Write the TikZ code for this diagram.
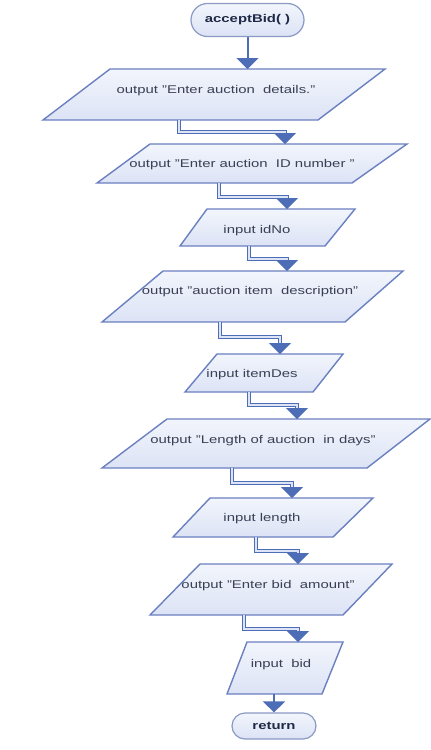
\documentclass[tikz,border=0pt]{standalone}
\usepackage{fontspec}
\usepackage{graphicx}
\setmainfont{Liberation Sans}
\usetikzlibrary{arrows.meta}
\definecolor{edgec}{HTML}{6A80C0}
\definecolor{termedge}{HTML}{8A9AC4}
\definecolor{arrowc}{HTML}{4D6DB6}
\definecolor{innerc}{HTML}{DDE4F5}
\definecolor{fillT}{HTML}{F2F5FC}
\definecolor{fillB}{HTML}{DCE3F5}
\definecolor{txtc}{HTML}{3A3F55}
\definecolor{boldc}{HTML}{1F2A48}
\newcommand{\wtext}[1]{\scalebox{1.33}[1]{#1}}
\begin{document}
\begin{tikzpicture}[x=1pt,y=-1pt,
  io/.style={draw=edgec, line width=1.4pt, top color=fillT, bottom color=fillB},
  lbl/.style={text=txtc, font=\fontsize{11.2}{13}\selectfont, inner sep=0pt},
  term/.style={draw=termedge, line width=1.2pt, top color=fillT, bottom color=fillB,
    rounded corners=16.5pt, minimum height=33pt, text=boldc,
    font=\fontsize{11.2}{13}\selectfont\bfseries, inner sep=0pt},
  flow/.style={draw=arrowc, line width=2pt, -{Triangle[width=22pt,length=11pt]}},
  elbow/.style={draw=arrowc, line width=1.2pt, double=innerc, double distance=1.3pt,
    -{Triangle[width=22pt,length=11pt]}}]
\useasboundingbox (0,0) rectangle (431,750);
\fill[white] (0,0) rectangle (431,750);

% start
\node[term, minimum width=113pt] (start) at (247.5,20) {\wtext{acceptBid( )}};

% P1
\path[io] (110,69) -- (385,69) -- (318,120) -- (43,120) -- cycle;
\node[lbl] (p1) at (216,91) {\wtext{output "Enter auction~~details."}};
\coordinate (p1in) at (247.5,69); \coordinate (p1out) at (179,120);

% P2
\path[io] (150,144) -- (407,144) -- (352,183) -- (97,183) -- cycle;
\node[lbl] (p2) at (242,165) {\wtext{output "Enter auction~~ID number "}};
\coordinate (p2in) at (285,144); \coordinate (p2out) at (219,183);

% P3
\path[io] (207,209) -- (355,209) -- (325,246) -- (180,246) -- cycle;
\node[lbl] (p3) at (257,231) {\wtext{input idNo}};
\coordinate (p3in) at (287,209); \coordinate (p3out) at (249,246);

% P4
\path[io] (163,271) -- (403,271) -- (345,322) -- (102,322) -- cycle;
\node[lbl] (p4) at (250,292) {\wtext{output "auction item~~description"}};
\coordinate (p4in) at (287,271); \coordinate (p4out) at (220,322);

% P5
\path[io] (217,354) -- (343,354) -- (313,392) -- (185,392) -- cycle;
\node[lbl] (p5) at (252,375) {\wtext{input itemDes}};
\coordinate (p5in) at (280,354); \coordinate (p5out) at (249,392);

% P6
\path[io] (167,419) -- (430,419) -- (367,468) -- (102,468) -- cycle;
\node[lbl] (p6) at (263,441) {\wtext{output "Length of auction~~in days"}};
\coordinate (p6in) at (297,419); \coordinate (p6out) at (232,468);

% P7
\path[io] (210,498) -- (373,498) -- (333,537) -- (173,537) -- cycle;
\node[lbl] (p7) at (262,519) {\wtext{input length}};
\coordinate (p7in) at (292,498); \coordinate (p7out) at (256,537);

% P8
\path[io] (200,564) -- (392,564) -- (343,615) -- (150,615) -- cycle;
\node[lbl] (p8) at (268,586) {\wtext{output "Enter bid~~amount"}};
\coordinate (p8in) at (298,564); \coordinate (p8out) at (244,615);

% P9
\path[io] (247,642) -- (343,642) -- (322,694) -- (227,694) -- cycle;
\node[lbl] (p9) at (281,665) {\wtext{input~~bid}};
\coordinate (p9in) at (298,642); \coordinate (p9out) at (274,694);

% end
\node[term, minimum width=84pt, minimum height=26pt, rounded corners=13pt] (stop) at (274,726) {\wtext{return}};

% connectors
\draw[flow] (start.south) -- (p1in);
\draw[elbow] (p1out) -- ++(0,12) -| (p2in);
\draw[elbow] (p2out) -- ++(0,14) -| (p3in);
\draw[elbow] (p3out) -- ++(0,13) -| (p4in);
\draw[elbow] (p4out) -- ++(0,15) -| (p5in);
\draw[elbow] (p5out) -- ++(0,13) -| (p6in);
\draw[elbow] (p6out) -- ++(0,15) -| (p7in);
\draw[elbow] (p7out) -- ++(0,14) -| (p8in);
\draw[elbow] (p8out) -- ++(0,14) -| (p9in);
\draw[flow] (p9out) -- (stop.north);
\end{tikzpicture}
\end{document}
